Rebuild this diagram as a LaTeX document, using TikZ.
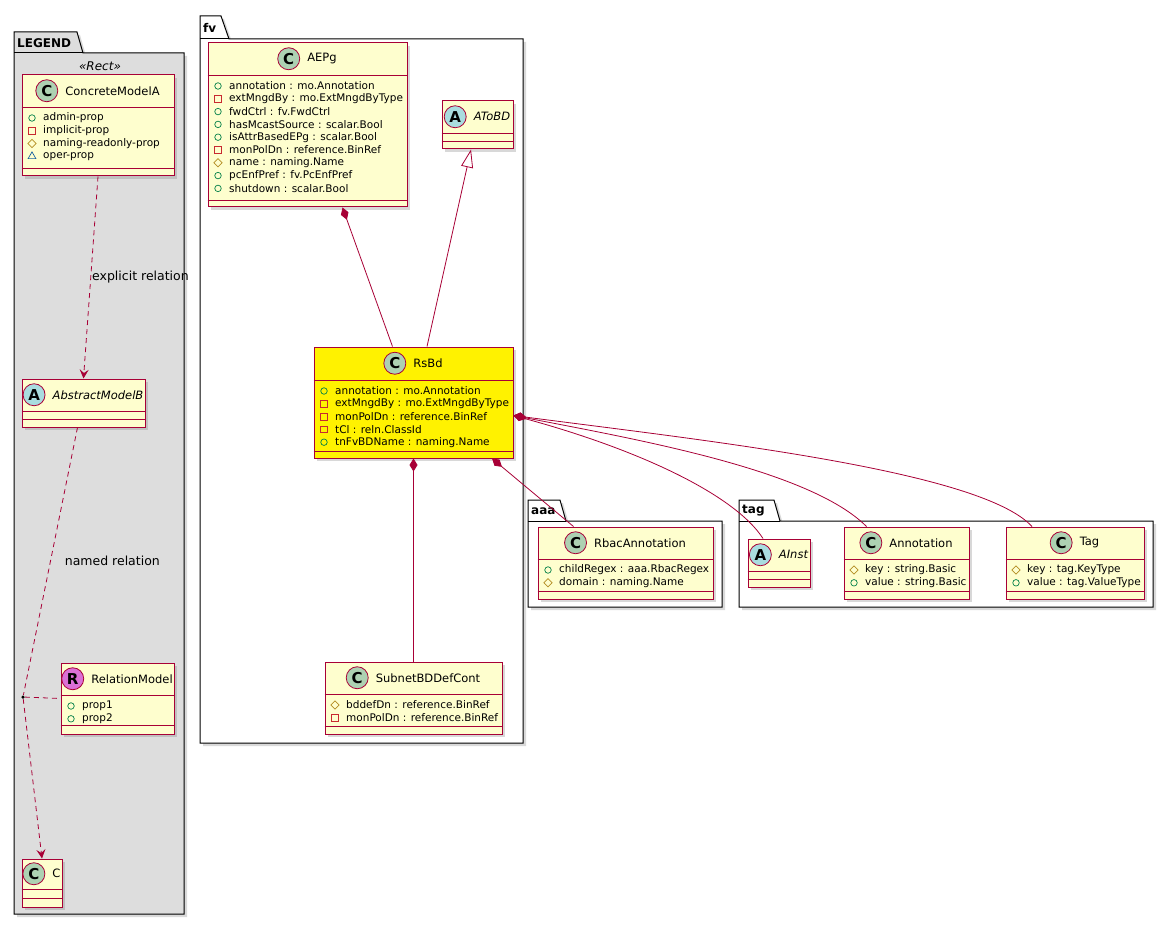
\documentclass[tikz,border=0pt]{standalone}
\usepackage{fontspec}
\setmainfont{DejaVu Sans}
\usepackage{tikz}
\usetikzlibrary{arrows.meta}
\usetikzlibrary{shapes.geometric,calc,fit,positioning,shadows}

\definecolor{umlred}{HTML}{A80036}
\definecolor{classfill}{HTML}{FEFECE}
\definecolor{spotgreen}{HTML}{ADD1B2}
\definecolor{spotblue}{HTML}{A9DCDF}
\definecolor{spotpink}{HTML}{DA70D6}
\definecolor{legendgray}{HTML}{DDDDDD}
\definecolor{pubgreen}{HTML}{038048}
\definecolor{privred}{HTML}{C82930}
\definecolor{protgold}{HTML}{B38D22}
\definecolor{pkgblue}{HTML}{1963A0}

\tikzset{
  classbox/.style={draw=umlred, line width=1pt, fill=classfill, inner sep=0pt,
    drop shadow={shadow xshift=3pt, shadow yshift=-3pt, opacity=0.3}},
  umlsep/.style={draw=umlred, line width=0.8pt},
  classtitle/.style={inner sep=0pt, font=\fontsize{11.5}{13}\selectfont},
  spot/.style={circle, draw=umlred, line width=0.8pt, inner sep=0pt, minimum size=22pt,
    font=\fontsize{15}{15}\selectfont\bfseries},
  spotC/.style={spot, fill=spotgreen, node contents={C}},
  spotA/.style={spot, fill=spotblue, node contents={A}},
  spotR/.style={spot, fill=spotpink, node contents={R}},
  attrtext/.style={anchor=west, inner sep=0pt, font=\fontsize{10.5}{12}\selectfont},
  pub/.style={circle, draw=pubgreen, line width=0.7pt, inner sep=0pt, minimum size=6.5pt},
  priv/.style={rectangle, draw=privred, line width=0.7pt, inner sep=0pt, minimum size=6.5pt},
  prot/.style={diamond, draw=protgold, line width=0.7pt, inner sep=0pt, minimum size=8.5pt},
  pkgv/.style={regular polygon, regular polygon sides=3, draw=pkgblue, line width=0.7pt,
    inner sep=0pt, minimum size=9pt},
  pkgline/.style={draw=black, line width=1pt,
    drop shadow={shadow xshift=3pt, shadow yshift=-3pt, opacity=0.3}},
  pkgname/.style={anchor=west, inner sep=0pt, font=\fontsize{12}{14}\selectfont\bfseries},
  rellabel/.style={anchor=west, inner sep=1pt, font=\fontsize{12.5}{14}\selectfont},
  rel/.style={draw=umlred, line width=0.8pt},
  reldash/.style={rel, dash pattern=on 5pt off 4pt},
  dep/.style={reldash, -{Stealth[length=9pt, width=9pt, inset=3.5pt]}},
  comp/.style={rel, {Diamond[length=13pt, width=8pt]}-},
  inh/.style={rel, -{Triangle[length=18pt, width=12pt, fill=white]}},
}

% class box: [options]{name}{top left}{bottom right}{header line}{last line}{spot}{title}
\newcommand{\umlclass}[8][]{%
  \node[classbox, fit={#3 #4}, #1] (#2) {};
  \draw[umlsep] (#2.west |- 0,#5) -- (#2.east |- 0,#5);
  \draw[umlsep] (#2.west |- 0,#6) -- (#2.east |- 0,#6);
  \coordinate (#2-hc) at ($(#2.north west)!0.5!(#2.east |- 0,#5)$);
  \node[classtitle] (#2-title) at ([xshift=14.5pt]#2-hc) {#8};
  \node (#2-spot) [#7, left=7pt of #2-title];
}
% attributes: {name}{box left}{first line}{visibility/text list}
\newcommand{\umlattrs}[4]{%
  \foreach \vis/\txt [count=\i] in {#4} {
    \pgfmathsetmacro{\yy}{#3+(\i-1)*12.8}
    \node[\vis] (#1-v\i) at ({#2+10},\yy) {};
    \node[attrtext] (#1-a\i) at ({#2+21},\yy) {\txt};
  }}

\begin{document}
\begin{tikzpicture}[x=1pt, y=-1pt]
  \useasboundingbox (0,0) rectangle (1170,925);

  % packages
  \draw[pkgline, fill=legendgray] (14,32) -- (77,32) -- (83,53) -- (184,53) -- (184,914) -- (14,914) -- cycle;
  \draw[line width=1pt] (14,53) -- (83,53);
  \node[pkgname] (legend-name) at (17,43) {LEGEND};
  \node[font=\fontsize{12}{14}\selectfont\itshape, inner sep=0pt] (legend-stereo) at (100,66) {«Rect»};

  \draw[pkgline, fill=white] (200,16) -- (221,16) -- (229,39) -- (523,39) -- (523,743) -- (200,743) -- cycle;
  \draw[line width=1pt] (200,39) -- (229,39);
  \node[pkgname] (fv-name) at (203,28) {fv};

  \draw[pkgline, fill=white] (528,500) -- (560,500) -- (566,521) -- (722,521) -- (722,607) -- (528,607) -- cycle;
  \draw[line width=1pt] (528,521) -- (566,521);
  \node[pkgname] (aaa-name) at (531,511) {aaa};

  \draw[pkgline, fill=white] (739,500) -- (774,500) -- (780,521) -- (1153,521) -- (1153,607) -- (739,607) -- cycle;
  \draw[line width=1pt] (739,521) -- (780,521);
  \node[pkgname] (tag-name) at (742,511) {tag};

  % legend
  \umlclass{concA}{(22,75)}{(174,176)}{107}{168}{spotC}{ConcreteModelA}
  \umlattrs{concA}{22}{118}{pub/admin-prop, priv/implicit-prop, prot/naming-readonly-prop, pkgv/oper-prop}
  \umlclass{absB}{(22,379)}{(145,427)}{411}{419}{spotA}{\itshape AbstractModelB}
  \umlclass{relModel}{(61,663)}{(174,734)}{695}{725}{spotR}{RelationModel}
  \umlattrs{relModel}{61}{706}{pub/prop1, pub/prop2}
  \umlclass{relC}{(22,859)}{(62,907)}{889}{898}{spotC}{C}
  \node[circle, fill=black, inner sep=0pt, minimum size=3.5pt] (assoc) at (23,697) {};

  % fv
  \umlclass{aepg}{(208,43)}{(407,207)}{75}{200}{spotC}{AEPg}
  \umlattrs{aepg}{208}{86}{pub/annotation : mo.Annotation, priv/extMngdBy : mo.ExtMngdByType,
    pub/fwdCtrl : fv.FwdCtrl, pub/hasMcastSource : scalar.Bool, pub/isAttrBasedEPg : scalar.Bool,
    priv/monPolDn : reference.BinRef, prot/name : naming.Name, pub/pcEnfPref : fv.PcEnfPref,
    pub/shutdown : scalar.Bool}
  \umlclass{atobd}{(442,101)}{(513,149)}{133}{141}{spotA}{\itshape AToBD}
  \umlclass[fill=yellow]{rsbd}{(314,347)}{(513,458)}{380}{451}{spotC}{RsBd}
  \umlattrs{rsbd}{314}{391}{pub/annotation : mo.Annotation, priv/extMngdBy : mo.ExtMngdByType,
    priv/monPolDn : reference.BinRef, priv/tCl : reln.ClassId, pub/tnFvBDName : naming.Name}
  \umlclass{subnet}{(325,662)}{(502,734)}{694}{726}{spotC}{SubnetBDDefCont}
  \umlattrs{subnet}{325}{705}{prot/bddefDn : reference.BinRef, priv/monPolDn : reference.BinRef}

  % aaa and tag
  \umlclass{rbac}{(538,527)}{(713,599)}{559}{591}{spotC}{RbacAnnotation}
  \umlattrs{rbac}{538}{570}{pub/childRegex : aaa.RbacRegex, prot/domain : naming.Name}
  \umlclass{ainst}{(748,539)}{(810,587)}{571}{579}{spotA}{\itshape AInst}
  \umlclass{annot}{(844,527)}{(969,599)}{559}{591}{spotC}{Annotation}
  \umlattrs{annot}{844}{570}{prot/key : string.Basic, pub/value : string.Basic}
  \umlclass{tagc}{(1006,527)}{(1144,599)}{559}{591}{spotC}{Tag}
  \umlattrs{tagc}{1006}{570}{prot/key : tag.KeyType, pub/value : tag.ValueType}

  % relations
  \draw[dep] (concA.south) -- (absB.north) node[rellabel, pos=0.5] (lbl-explicit) {explicit relation};
  \draw[reldash] ([xshift=-6pt]absB.south) -- (assoc) node[rellabel, pos=0.5, xshift=13pt] (lbl-named) {named relation};
  \draw[dep] (assoc) -- (relC.north);
  \draw[reldash] (assoc) -- (relModel.west);

  \draw[comp] ([xshift=35pt]aepg.south) -- ([xshift=-21pt]rsbd.north);
  \draw[inh] ([xshift=13.5pt]rsbd.north) -- ([xshift=-6.5pt]atobd.south);
  \draw[comp] (rsbd.south) -- (subnet.north);
  \draw[comp] ([xshift=78.5pt]rsbd.south) -- ([xshift=-52pt]rbac.north);
  \draw[comp] ([yshift=-13pt]rsbd.east) .. controls (640,450) and (735,495) .. ([xshift=-16pt]ainst.north);
  \draw[comp] ([yshift=-13pt]rsbd.east) .. controls (640,440) and (810,470) .. ([xshift=-40pt]annot.north);
  \draw[comp] ([yshift=-13pt]rsbd.east) .. controls (700,440) and (980,470) .. ([xshift=-43pt]tagc.north);
\end{tikzpicture}
\end{document}
